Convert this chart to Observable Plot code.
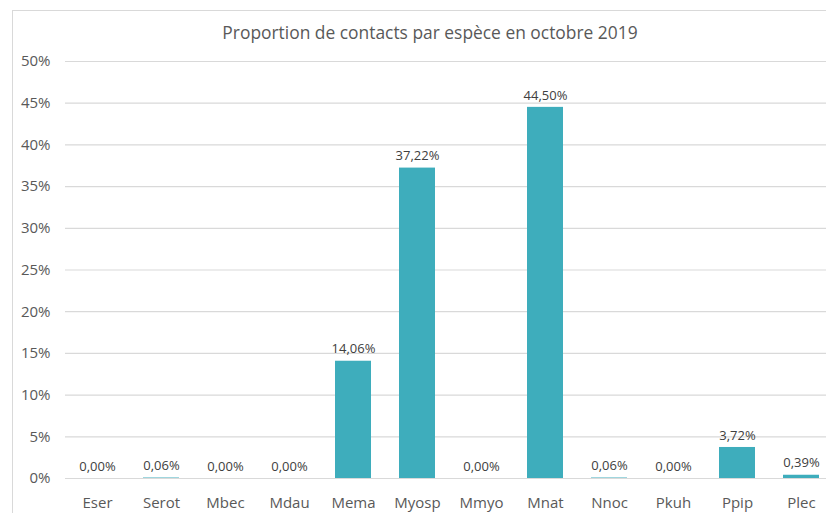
<!DOCTYPE html>
<html>
<head>
<meta charset="utf-8">
<script src="https://cdn.jsdelivr.net/npm/d3@7"></script>
<script src="https://cdn.jsdelivr.net/npm/@observablehq/plot@0.6"></script>
<style>
  html, body { margin: 0; padding: 0; background: #fff; overflow: hidden; }
  #wrap { position: relative; width: 826px; height: 513px; font-family: "Open Sans", sans-serif; }
  #border { position: absolute; left: 12px; top: 10px; width: 900px; height: 600px; border: 1px solid #d9d9d9; box-sizing: border-box; }
  #title { position: absolute; left: 0; top: 20px; width: 860px; text-align: center; font-size: 17.4px; color: #595959; }
  #chart { position: absolute; left: 0; top: 0; }
</style>
</head>
<body>
<div id="wrap">
  <div id="border"></div>
  <div id="title">Proportion de contacts par espèce en octobre 2019</div>
  <div id="chart"></div>
</div>
<script>
const categories = ["Eser", "Serot", "Mbec", "Mdau", "Mema", "Myosp", "Mmyo", "Mnat", "Nnoc", "Pkuh", "Ppip", "Plec"];
const values = [0.00, 0.06, 0.00, 0.00, 14.06, 37.22, 0.00, 44.50, 0.06, 0.00, 3.72, 0.39];
const yTicks = [0, 5, 10, 15, 20, 25, 30, 35, 40, 45, 50];

const data = categories.map((c, i) => ({ species: c, value: values[i] }));
const fmt = v => v.toFixed(2).replace(".", ",") + "%";

const chart = Plot.plot({
  width: 826,
  height: 513,
  marginTop: 61,
  marginBottom: 35,
  marginLeft: 65,
  marginRight: -8,
  style: { fontFamily: "Open Sans, sans-serif", background: "transparent", overflow: "visible" },
  x: { domain: categories, range: [65, 834], paddingInner: 0.43, paddingOuter: 0.215, label: null },
  y: { domain: [0, 50], label: null },
  marks: [
    Plot.ruleY(yTicks, { stroke: "#d9d9d9", strokeWidth: 1.2 }),
    Plot.barY(data, { x: "species", y: "value", fill: "#3eadbc" }),
    Plot.text(data, { x: "species", y: "value", text: d => fmt(d.value), dy: -12, fill: "#404040", fontSize: 13 }),
    Plot.axisY({ ticks: yTicks, tickSize: 0, tickPadding: 15, tickFormat: d => d + "%", fill: "#595959", fontSize: 15, label: null }),
    Plot.axisX({ tickSize: 0, tickPadding: 19, fill: "#595959", fontSize: 15, label: null })
  ]
});
document.getElementById("chart").appendChild(chart);
</script>
</body>
</html>
